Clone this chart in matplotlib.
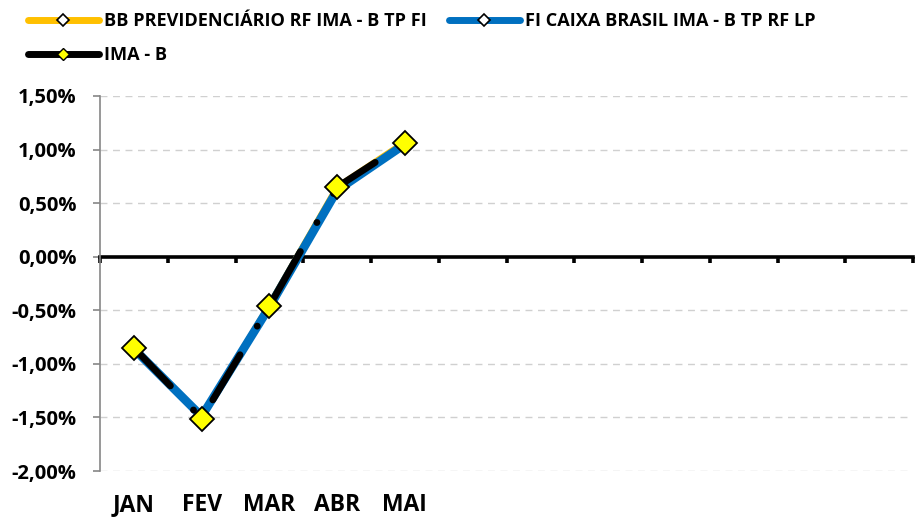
import matplotlib
matplotlib.use("Agg")
import matplotlib.pyplot as plt
from matplotlib.lines import Line2D
from matplotlib.ticker import FixedLocator, FuncFormatter

months = ["JAN", "FEV", "MAR", "ABR", "MAI"]
n_slots = 12
bb_values = [-0.85, -1.50, -0.45, 0.65, 1.07]
caixa_values = [-0.86, -1.49, -0.47, 0.62, 1.05]
imab_values = [-0.85, -1.51, -0.46, 0.65, 1.06]
yticks = [-2.0, -1.5, -1.0, -0.5, 0.0, 0.5, 1.0, 1.5]

names = ["BB PREVIDENCIÁRIO RF IMA - B TP FI",
         "FI CAIXA BRASIL IMA - B TP RF LP",
         "IMA - B"]
c_bb = "#FFC000"
c_caixa = "#0070C0"
c_imab = "#000000"
c_marker = "#FFFF00"

plt.rcParams['font.family'] = ['Open Sans', 'DejaVu Sans']
plt.rcParams['font.weight'] = 'bold'
plt.rcParams['lines.scale_dashes'] = False

fig = plt.figure(figsize=(9.15, 5.17), dpi=100)
ax = fig.add_axes([100/915, 1-471/517, 813/915, (471-96)/517])

x = [i + 0.5 for i in range(len(months))]

ax.plot(x, bb_values, color=c_bb, lw=4.5, solid_capstyle='round', solid_joinstyle='round', zorder=3)
ax.plot(x, caixa_values, color=c_caixa, lw=6.2, solid_capstyle='round', solid_joinstyle='round', zorder=4)
ln, = ax.plot(x, imab_values, color=c_imab, lw=4.9, dash_capstyle='round', zorder=5)
ln.set_dashes((38.0, 24.0, 0.1, 24.0))
ax.plot(x, imab_values, linestyle='none', marker='D', markersize=12.5,
        markerfacecolor=c_marker, markeredgecolor='black', markeredgewidth=1.3, zorder=6)

ax.set_xlim(0, n_slots)
ax.set_ylim(-2.0, 1.5)

# y axis
ax.yaxis.set_major_locator(FixedLocator(yticks))
ax.yaxis.set_major_formatter(FuncFormatter(lambda v, p: ("%.2f%%" % v).replace(".", ",")))
ax.tick_params(axis='y', direction='out', length=5, width=1.2, color='#868686',
               labelsize=14.5, pad=12)
for lab in ax.get_yticklabels():
    lab.set_fontweight('bold')
ax.spines['left'].set_color('#868686')
ax.spines['left'].set_linewidth(1.2)
ax.grid(axis='y', color='#D0D0D0', linestyle=(0, (5, 4)), linewidth=1.0, zorder=0)
ax.spines['top'].set_visible(False)
ax.spines['right'].set_visible(False)

# x axis line at zero with boundary ticks
ax.spines['bottom'].set_position(('data', 0))
ax.spines['bottom'].set_color('black')
ax.spines['bottom'].set_linewidth(2.6)
ax.spines['bottom'].set_zorder(2)
ax.xaxis.set_major_locator(FixedLocator(list(range(n_slots + 1))))
ax.tick_params(axis='x', direction='out', length=4, width=2.6, color='black',
               labelbottom=False)

# category labels at bottom
sec = ax.secondary_xaxis(0)
sec.set_xticks(x)
sec.set_xticklabels(months, fontsize=16.5, fontweight='bold')
sec.tick_params(axis='x', length=0, pad=16)
sec.spines['bottom'].set_visible(False)

handles = [
    Line2D([], [], color=c_bb, lw=5, solid_capstyle='round', marker='D', markersize=6,
           markerfacecolor='white', markeredgecolor='black', markeredgewidth=1.2),
    Line2D([], [], color=c_imab, lw=5, solid_capstyle='round', marker='D', markersize=6,
           markerfacecolor=c_marker, markeredgecolor='black', markeredgewidth=1.0),
    Line2D([], [], color=c_caixa, lw=5, solid_capstyle='round', marker='D', markersize=6,
           markerfacecolor='white', markeredgecolor='black', markeredgewidth=1.2),
]
labels = [names[0], names[2], names[1]]
leg = fig.legend(handles, labels, ncol=2, loc='upper left', bbox_to_anchor=(28/915, 1 - 12/517),
                 frameon=False, fontsize=13.1, handlelength=3.9, handletextpad=0.3,
                 columnspacing=1.2, labelspacing=0.88, borderaxespad=0, borderpad=0)
for t in leg.get_texts():
    t.set_fontweight('bold')

fig.savefig("out.png", dpi=100)
